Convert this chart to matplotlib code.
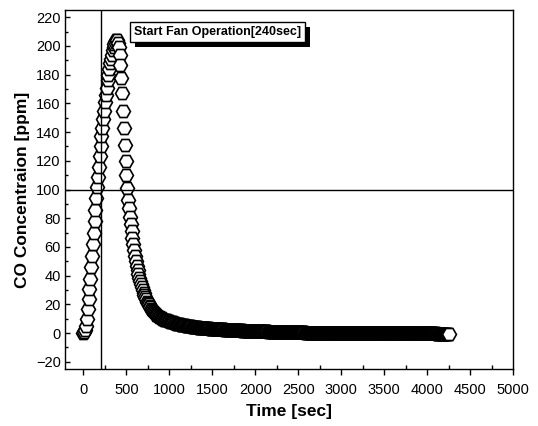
import numpy as np
import matplotlib
matplotlib.use("Agg")
import matplotlib.pyplot as plt
from matplotlib.ticker import MultipleLocator
import matplotlib.patheffects as pe

plt.rcParams['font.family'] = ['Liberation Sans', 'DejaVu Sans']

# ---- data (CO concentration, ppm, sampled every 10 s) ----
time_step = 10
co_rise = [0, 0.5, 2, 5, 10, 17, 24, 31, 38, 46,
           54, 62, 70, 78, 86, 94, 102, 109, 116, 123,
           130, 137, 143, 149, 155, 161, 166, 171, 176, 180,
           184, 188, 191, 194, 197, 199, 201, 203, 204, 204]
co_decay = [202, 199, 194, 187, 178, 167, 155, 143, 131, 120,
            110, 101, 93, 87, 81, 76, 71, 66.5, 62, 58,
            54, 50.5, 47, 44, 41, 38.5, 36, 34, 32, 30,
            28, 26.5, 25, 23.5, 22, 21, 20, 19, 18, 17,
            16.2, 15.4, 14.7, 14, 13.4, 12.8, 12.3, 11.8, 11.4, 11,
            10.6, 10.3, 10, 9.7, 9.4, 9.2, 9.0, 8.8, 8.6, 8.4,
            8.2]
co_tail = [8.0, 7.8, 7.6, 7.4, 7.2, 7.0, 6.8, 6.6, 6.4, 6.2,
           6.1, 6.0, 5.8, 5.7, 5.6, 5.5, 5.4, 5.3, 5.1, 5.0,
           4.9, 4.8, 4.8, 4.7, 4.6, 4.5, 4.4, 4.4, 4.3, 4.2,
           4.1, 4.1, 4.0, 3.9, 3.9, 3.8, 3.8, 3.7, 3.7, 3.6,
           3.5, 3.5, 3.4, 3.4, 3.3, 3.3, 3.2, 3.2, 3.1, 3.1,
           3.0, 3.0, 3.0, 2.9, 2.9, 2.8, 2.8, 2.8, 2.7, 2.7,
           2.6, 2.6, 2.6, 2.5, 2.5, 2.5, 2.4, 2.4, 2.3, 2.3,
           2.3, 2.2, 2.2, 2.2, 2.1, 2.1, 2.1, 2.0, 2.0, 2.0,
           1.9, 1.9, 1.9, 1.9, 1.8, 1.8, 1.8, 1.7, 1.7, 1.7,
           1.7, 1.6, 1.6, 1.6, 1.6, 1.5, 1.5, 1.5, 1.5, 1.5,
           1.4, 1.4, 1.4, 1.4, 1.3, 1.3, 1.3, 1.3, 1.3, 1.2,
           1.2, 1.2, 1.2, 1.2, 1.1, 1.1, 1.1, 1.1, 1.1, 1.1,
           1.0, 1.0, 1.0, 1.0, 1.0, 0.9, 0.9, 0.9, 0.9, 0.9,
           0.9, 0.8, 0.8, 0.8, 0.8, 0.8, 0.8, 0.7, 0.7, 0.7,
           0.7, 0.7, 0.7, 0.6, 0.6, 0.6, 0.6, 0.6, 0.6, 0.6,
           0.5, 0.5, 0.5, 0.5, 0.5, 0.5, 0.5, 0.4, 0.4, 0.4,
           0.4, 0.4, 0.4, 0.4, 0.4, 0.3, 0.3, 0.3, 0.3, 0.3,
           0.3, 0.3, 0.3, 0.3, 0.3, 0.3, 0.2, 0.2, 0.2, 0.2,
           0.2, 0.2, 0.2, 0.2, 0.2, 0.2, 0.2, 0.2, 0.2, 0.2,
           0.2, 0.2, 0.1, 0.1, 0.1, 0.1, 0.1, 0.1, 0.1, 0.1,
           0.1, 0.1, 0.1, 0.1, 0.1, 0.1, 0.1, 0.1, 0.1, 0.1,
           0.1, 0.1, 0.1, 0.1, 0.0, 0.0, 0.0, 0.0, 0.0, 0.0,
           0.0, 0.0, 0.0, 0.0, 0.0, 0.0, 0.0, 0.0, 0.0, 0.0,
           0.0, 0.0, 0.0, 0.0, 0.0, 0.0, 0.0, 0.0, 0.0, 0.0,
           0.0, 0.0, 0.0, 0.0, 0.0, 0.0, 0.0, 0.0, 0.0, 0.0,
           -0.1, -0.1, -0.1, -0.1, -0.1, -0.1, -0.1, -0.1, -0.1, -0.1,
           -0.1, -0.1, -0.1, -0.1, -0.1, -0.1, -0.1, -0.1, -0.1, -0.1,
           -0.1, -0.1, -0.1, -0.1, -0.1, -0.1, -0.1, -0.1, -0.1, -0.1,
           -0.2, -0.2, -0.2, -0.2, -0.2, -0.2, -0.2, -0.2, -0.2, -0.2,
           -0.2, -0.2, -0.2, -0.2, -0.2, -0.2, -0.2, -0.2, -0.2, -0.2,
           -0.2, -0.2, -0.2, -0.2, -0.2, -0.2, -0.2, -0.2, -0.2, -0.2,
           -0.3, -0.3, -0.3, -0.3, -0.3, -0.3, -0.3, -0.3, -0.3, -0.3,
           -0.3, -0.3, -0.4, -0.4, -0.4]
co_ppm = co_rise + co_decay + co_tail
time_sec = np.arange(len(co_ppm)) * time_step

fan_start_sec = 200
threshold_ppm = 100
note_text = "Start Fan Operation[240sec]"
x_label = "Time [sec]"
y_label = "CO Concentraion [ppm]"

# ---- figure ----
fig = plt.figure(figsize=(5.38, 4.26), dpi=100)
ax = fig.add_axes([0.1208, 0.1338, 0.8327, 0.8427])

ax.plot(time_sec, co_ppm, linestyle='none', marker='H', markersize=10,
        markerfacecolor='white', markeredgecolor='black', markeredgewidth=1.2,
        zorder=3)

ax.axvline(fan_start_sec, color='black', linewidth=1.0, zorder=4)
ax.axhline(threshold_ppm, color='black', linewidth=1.0, zorder=4)

ax.set_xlim(-215, 5000)
ax.set_ylim(-25, 225)

ax.xaxis.set_major_locator(MultipleLocator(500))
ax.xaxis.set_minor_locator(MultipleLocator(250))
ax.yaxis.set_major_locator(MultipleLocator(20))
ax.yaxis.set_minor_locator(MultipleLocator(10))

ax.tick_params(axis='x', which='major', direction='out', length=4, width=1.0,
               pad=6, labelsize=10.5)
ax.tick_params(axis='x', which='minor', direction='in', length=3, width=1.0)
ax.tick_params(axis='y', which='major', direction='in', length=3.5, width=1.0,
               pad=3, labelsize=10.5)
ax.tick_params(axis='y', which='minor', direction='in', length=2, width=1.0)

for s in ax.spines.values():
    s.set_linewidth(1.0)

ax.set_xlabel(x_label, fontsize=12.5, fontweight='bold', labelpad=5)
ax.set_ylabel(y_label, fontsize=12.5, fontweight='bold', labelpad=4)

t = ax.text(1560, 209.6, note_text, fontsize=9, fontweight='bold',
            ha='center', va='center', zorder=6,
            bbox=dict(boxstyle='square,pad=0.3', facecolor='white',
                      edgecolor='black', linewidth=1.0))
t.get_bbox_patch().set_path_effects([
    pe.SimplePatchShadow(offset=(3.5, -3.5), shadow_rgbFace='black', alpha=1.0),
    pe.Normal()])

fig.savefig("out.png", dpi=100)
